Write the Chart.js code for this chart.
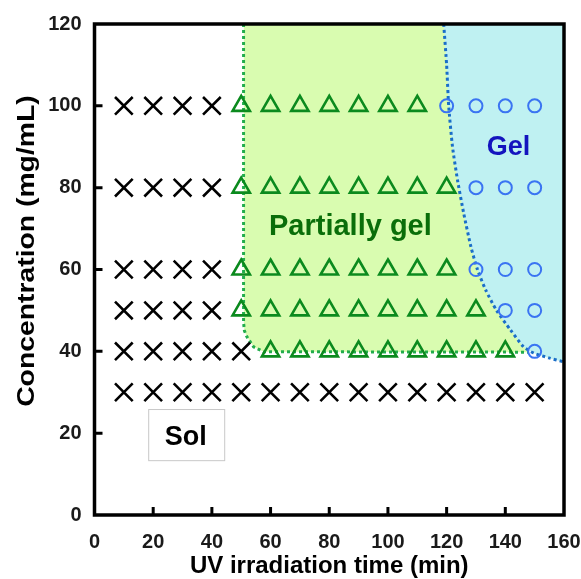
<!DOCTYPE html>
<html lang="en">
<head>
    <meta charset="UTF-8">
    <title>Phase diagram</title>
    <script src="https://cdn.jsdelivr.net/npm/chart.js"></script>
    <style>
        body { margin: 0; background: #fff; }
        .wrapper { width: 581px; height: 579px; }
    </style>
</head>
<body>
    <div class="wrapper"><canvas id="phaseChart"></canvas></div>
    <script>
const xTicks = [0, 20, 40, 60, 80, 100, 120, 140, 160];
const yTicks = [0, 20, 40, 60, 80, 100, 120];

// Sol (crosses)
const solTime = [10, 20, 30, 40,  10, 20, 30, 40,  10, 20, 30, 40,  10, 20, 30, 40,  10, 20, 30, 40, 50,
                 10, 20, 30, 40, 50, 60, 70, 80, 90, 100, 110, 120, 130, 140, 150];
const solConc = [100, 100, 100, 100,  80, 80, 80, 80,  60, 60, 60, 60,  50, 50, 50, 50,  40, 40, 40, 40, 40,
                 30, 30, 30, 30, 30, 30, 30, 30, 30, 30, 30, 30, 30, 30, 30];

// Partially gel (triangles)
const partTime = [50, 60, 70, 80, 90, 100, 110,
                  50, 60, 70, 80, 90, 100, 110, 120,
                  50, 60, 70, 80, 90, 100, 110, 120,
                  50, 60, 70, 80, 90, 100, 110, 120, 130,
                  60, 70, 80, 90, 100, 110, 120, 130, 140];
const partConc = [100, 100, 100, 100, 100, 100, 100,
                  80, 80, 80, 80, 80, 80, 80, 80,
                  60, 60, 60, 60, 60, 60, 60, 60,
                  50, 50, 50, 50, 50, 50, 50, 50, 50,
                  40, 40, 40, 40, 40, 40, 40, 40, 40];

// Gel (circles)
const gelTime = [120, 130, 140, 150,  130, 140, 150,  130, 140, 150,  140, 150,  150];
const gelConc = [100, 100, 100, 100,  80, 80, 80,  60, 60, 60,  50, 50,  40];

// region boundaries
const partEdgeX = [50.8, 50.8, 51.1, 51.9, 54.2, 57.6, 148];
const partEdgeY = [120, 47, 45, 43.6, 41.1, 39.9, 39.8];
const gelEdgeX = [119, 120, 120.7, 122, 123.7, 125.8, 128.3, 130.5, 133.3, 137, 141.8, 146.2, 149.6, 154.8, 160];
const gelEdgeY = [120, 110, 100, 90, 81.9, 73.8, 65.5, 60, 55, 50, 45.2, 41.1, 39.6, 38.4, 37.4];

const regionText = ['Partially gel', 'Gel', 'Sol'];
const regionTextX = [87.2, 141.1, 31.1];
const regionTextY = [68.4, 88, 17.1];
const regionTextColor = ['#0a6e0a', '#1414be', '#000000'];

const yTitle = 'Concentration (mg/mL)';

const toPoints = (xs, ys) => xs.map((x, i) => ({ x: x, y: ys[i] }));
const FONT = "'Liberation Sans', Arial, sans-serif";

const frame = {
    id: 'frame',
    afterDatasetsDraw(chart) {
        const { ctx, chartArea: a, scales: { x, y } } = chart;
        ctx.save();
        ctx.strokeStyle = '#000';
        ctx.lineWidth = 3;
        ctx.lineCap = 'butt';
        ctx.beginPath();
        xTicks.slice(1, -1).forEach(t => {
            const px = x.getPixelForValue(t);
            ctx.moveTo(px, a.bottom);
            ctx.lineTo(px, a.bottom - 8);
        });
        yTicks.slice(1, -1).forEach(t => {
            const py = y.getPixelForValue(t);
            ctx.moveTo(a.left, py);
            ctx.lineTo(a.left + 8, py);
        });
        ctx.stroke();
        ctx.lineWidth = 3.5;
        ctx.strokeRect(a.left, a.top, a.right - a.left, a.bottom - a.top);

        // "Sol" box
        const bx1 = x.getPixelForValue(18.3), bx2 = x.getPixelForValue(44.2);
        const by1 = y.getPixelForValue(25.9), by2 = y.getPixelForValue(13.4);
        ctx.fillStyle = '#fff';
        ctx.fillRect(bx1, by1, bx2 - bx1, by2 - by1);
        ctx.strokeStyle = '#c8c8c8';
        ctx.lineWidth = 1;
        ctx.strokeRect(bx1 + 0.5, by1 + 0.5, bx2 - bx1, by2 - by1);

        ctx.textAlign = 'center';
        ctx.textBaseline = 'alphabetic';
        regionText.forEach((t, i) => {
            ctx.font = 'bold ' + (i === 0 ? 29 : 27) + 'px ' + FONT;
            ctx.fillStyle = regionTextColor[i];
            ctx.fillText(t, x.getPixelForValue(regionTextX[i]), y.getPixelForValue(regionTextY[i]));
        });

        // y axis title (the original is stretched along its length)
        ctx.translate(27, y.getPixelForValue(64.5));
        ctx.rotate(-Math.PI / 2);
        ctx.scale(1.18, 1);
        ctx.font = 'bold 24px ' + FONT;
        ctx.fillStyle = '#000';
        ctx.textBaseline = 'middle';
        ctx.fillText(yTitle, 0, 0);
        ctx.restore();
    }
};

new Chart(document.getElementById('phaseChart'), {
    type: 'scatter',
    data: {
        datasets: [
            {
                label: 'Sol',
                data: toPoints(solTime, solConc),
                pointStyle: 'crossRot',
                pointRadius: 12.5,
                borderColor: '#000',
                borderWidth: 2.6,
                order: 0
            },
            {
                label: 'Partially gel',
                data: toPoints(partTime, partConc),
                pointStyle: 'triangle',
                pointRadius: 10,
                borderColor: '#0b8a1e',
                backgroundColor: 'rgba(0,0,0,0)',
                borderWidth: 2.6,
                order: 0
            },
            {
                label: 'Gel',
                data: toPoints(gelTime, gelConc),
                pointStyle: 'circle',
                pointRadius: 6.5,
                borderColor: '#3a74f2',
                backgroundColor: 'rgba(0,0,0,0)',
                borderWidth: 2,
                order: 0
            },
            {
                label: 'gel region',
                data: toPoints(gelEdgeX, gelEdgeY),
                showLine: true,
                fill: 'end',
                backgroundColor: '#bff1f2',
                borderColor: '#1a6ec8',
                borderWidth: 3,
                borderDash: [3, 3],
                tension: 0.2,
                pointRadius: 0,
                order: 1
            },
            {
                label: 'partial region',
                data: toPoints(partEdgeX, partEdgeY),
                showLine: true,
                fill: 'end',
                backgroundColor: '#d9fcb0',
                borderColor: '#22ad4c',
                borderWidth: 3,
                borderDash: [3, 3],
                tension: 0,
                pointRadius: 0,
                order: 2
            }
        ]
    },
    options: {
        responsive: true,
        maintainAspectRatio: false,
        animation: false,
        events: [],
        layout: { padding: { top: 24, right: 17, left: 0, bottom: 0 } },
        plugins: {
            legend: { display: false },
            tooltip: { enabled: false }
        },
        scales: {
            x: {
                min: 0,
                max: 160,
                afterBuildTicks: s => { s.ticks = xTicks.map(v => ({ value: v })); },
                afterFit: s => { s.height = 64; s.paddingLeft = 0; s.paddingRight = 0; },
                grid: { display: false },
                border: { display: false },
                ticks: {
                    padding: 7,
                    color: '#1a1a1a',
                    font: { family: FONT, size: 20, weight: 'bold' }
                },
                title: {
                    display: true,
                    text: 'UV irradiation time (min)',
                    color: '#000',
                    padding: { top: 0, bottom: 1 },
                    font: { family: FONT, size: 24, weight: 'bold', lineHeight: 1 }
                }
            },
            y: {
                min: 0,
                max: 120,
                afterBuildTicks: s => { s.ticks = yTicks.map(v => ({ value: v })); },
                afterFit: s => { s.width = 94.5; s.paddingTop = 0; s.paddingBottom = 0; },
                grid: { display: false },
                border: { display: false },
                ticks: {
                    padding: 5,
                    color: '#1a1a1a',
                    font: { family: FONT, size: 20, weight: 'bold' }
                }
            }
        }
    },
    plugins: [frame]
});
    </script>
</body>
</html>
